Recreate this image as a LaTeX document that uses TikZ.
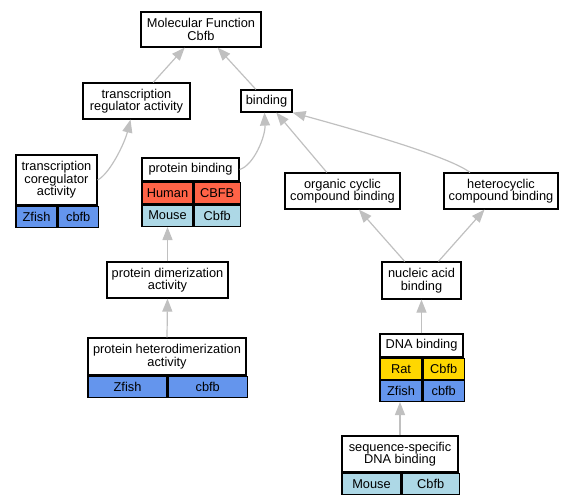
\documentclass[tikz,border=0pt]{standalone}
\usepackage{fontspec}
\setmainfont{Liberation Sans}
\usetikzlibrary{arrows.meta,positioning}
\definecolor{human}{HTML}{FF6347}
\definecolor{mouse}{HTML}{ADD8E6}
\definecolor{zfish}{HTML}{6495ED}
\definecolor{rat}{HTML}{FFD700}
\definecolor{edgegray}{HTML}{C0C0C0}

\begin{document}
\begin{tikzpicture}[
  x=1bp, y=-1bp,
  >={Triangle[length=13bp,width=10bp]},
  every node/.style={draw,line width=1.2bp,inner sep=0pt,align=center,font=\fontsize{12.8bp}{12.6bp}\selectfont},
  term/.style={fill=white},
  cell/.style={anchor=north west,minimum height=21.5bp},
  edge/.style={draw=edgegray,line width=1.2bp,->},
  ]
  \useasboundingbox (0,0) rectangle (576,504);

  \node[term, minimum width=120bp, minimum height=35bp] (mf) at (201,29.5) {Molecular Function\\Cbfb};
  \node[term, minimum width=107bp, minimum height=36bp] (tra) at (136.5,101) {transcription\\regulator activity};
  \node[term, minimum width=51bp, minimum height=22bp] (bind) at (266.5,101) {binding};

  \node[term, minimum width=81bp, minimum height=50bp] (tca) at (56.5,180) {transcription\\coregulator\\activity};
  \node[cell, fill=zfish, minimum width=41bp] (tca1) at (tca.south west) {Zfish};
  \node[cell, fill=zfish, minimum width=40bp] (tca2) at (tca1.north east) {cbfb};

  \node[term, minimum width=97bp, minimum height=23bp] (pb) at (190.5,169.5) {protein binding};
  \node[cell, fill=human, minimum width=51bp] (pbh1) at (pb.south west) {Human};
  \node[cell, fill=human, minimum width=46bp] (pbh2) at (pbh1.north east) {CBFB};
  \node[cell, fill=mouse, minimum width=51bp] (pbm1) at (pbh1.south west) {Mouse};
  \node[cell, fill=mouse, minimum width=46bp] (pbm2) at (pbm1.north east) {Cbfb};

  \node[term, minimum width=115bp, minimum height=36bp] (occb) at (342.5,191) {organic cyclic\\compound binding};
  \node[term, minimum width=114bp, minimum height=36bp] (hcb) at (501,191) {heterocyclic\\compound binding};
  \node[term, minimum width=79bp, minimum height=37bp] (nab) at (421.5,280.5) {nucleic acid\\binding};
  \node[term, minimum width=121bp, minimum height=36bp] (pda) at (167.5,280) {protein dimerization\\activity};

  \node[term, minimum width=158bp, minimum height=37bp] (pha) at (167,356.5) {protein heterodimerization\\activity};
  \node[cell, fill=zfish, minimum width=79bp] (pha1) at (pha.south west) {Zfish};
  \node[cell, fill=zfish, minimum width=79bp] (pha2) at (pha1.north east) {cbfb};

  \node[term, minimum width=83bp, minimum height=23bp] (dna) at (421.5,345.5) {DNA binding};
  \node[cell, fill=rat, minimum width=42bp, minimum height=21bp] (dnar1) at (dna.south west) {Rat};
  \node[cell, fill=rat, minimum width=41bp, minimum height=21bp] (dnar2) at (dnar1.north east) {Cbfb};
  \node[cell, fill=zfish, minimum width=42bp, minimum height=21bp] (dnaz1) at (dnar1.south west) {Zfish};
  \node[cell, fill=zfish, minimum width=41bp, minimum height=21bp] (dnaz2) at (dnaz1.north east) {cbfb};

  \node[term, minimum width=116bp, minimum height=36bp] (ssdb) at (400,454) {sequence-specific\\DNA binding};
  \node[cell, fill=mouse, minimum width=59bp, minimum height=21bp] (ssdb1) at (ssdb.south west) {Mouse};
  \node[cell, fill=mouse, minimum width=57bp, minimum height=21bp] (ssdb2) at (ssdb1.north east) {Cbfb};

  % is_a links
  \draw[edge] (tra) -- (mf);
  \draw[edge] (bind) -- (mf);
  \draw[edge] (tca.east) .. controls +(12,-6) and +(-6,24) .. ([xshift=-6bp]tra.south);
  \draw[edge] (pb.east) .. controls +(14,-4) and +(1,24) .. ([xshift=-2bp]bind.south);
  \draw[edge] (occb) -- (bind);
  \draw[edge] ([xshift=-31bp]hcb.north) .. controls +(-20,-15) and +(80,22) .. (bind.south east);
  \draw[edge] (nab) -- (occb);
  \draw[edge] (nab) -- (hcb);
  \draw[edge] (pda.north) -- (pda.north |- pbm1.south);
  \draw[edge] (pha.north) -- (pda.south);
  \draw[edge] (dna.north) -- (nab.south);
  \draw[edge] (ssdb.north) -- (ssdb.north |- dnaz1.south);
\end{tikzpicture}
\end{document}
